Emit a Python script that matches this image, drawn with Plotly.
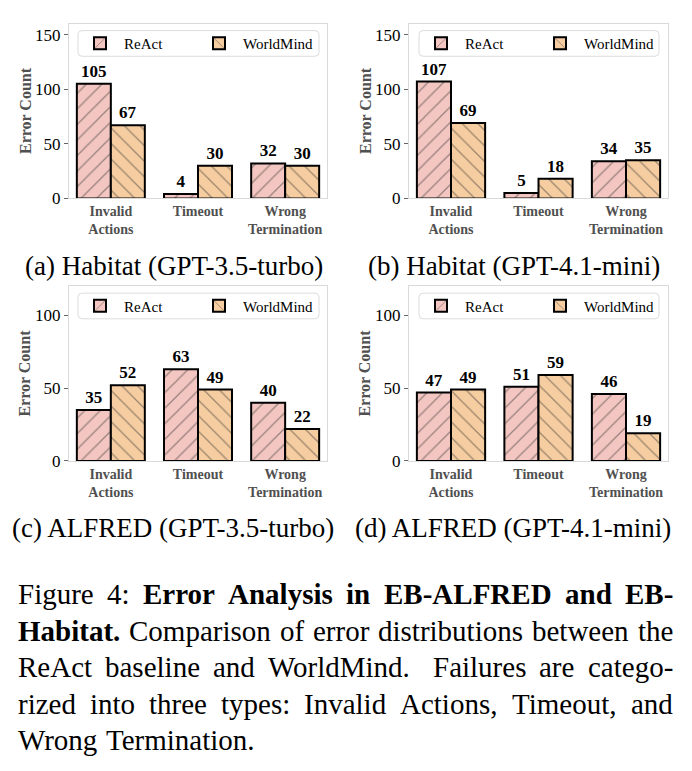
import plotly.graph_objects as go

categories = ["Invalid Actions", "Timeout", "Wrong Termination"]
tick_labels = ["Invalid<br>Actions", "Timeout", "Wrong<br>Termination"]
series_names = ["ReAct", "WorldMind"]

habitat_gpt35_react = [105, 4, 32]
habitat_gpt35_worldmind = [67, 30, 30]
habitat_gpt41_react = [107, 5, 34]
habitat_gpt41_worldmind = [69, 18, 35]
alfred_gpt35_react = [35, 63, 40]
alfred_gpt35_worldmind = [52, 49, 22]
alfred_gpt41_react = [47, 51, 46]
alfred_gpt41_worldmind = [49, 59, 19]

subcaptions = ["(a) Habitat (GPT-3.5-turbo)", "(b) Habitat (GPT-4.1-mini)",
               "(c) ALFRED (GPT-3.5-turbo)", "(d) ALFRED (GPT-4.1-mini)"]
# caption: (line text, range of bold words, justified?)
caption_lines = [
    ("Figure 4: Error Analysis in EB-ALFRED and EB-", (2, 99), True),
    ("Habitat. Comparison of error distributions between the", (0, 1), True),
    ("ReAct baseline and WorldMind. Failures are catego-", (0, 0), True),
    ("rized into three types: Invalid Actions, Timeout, and", (0, 0), True),
    ("Wrong Termination.", (0, 0), False),
]

W, H = 692, 771
SERIF = "Liberation Serif, Times New Roman, serif"
REACT_COLOR = "#F3C6C1"
WM_COLOR = "#F6CDA0"
GRAY_TXT = "#505050"

# Times / Liberation Serif advance widths (1/1000 em)
_REG = dict(zip("ABCDEFGHIJKLMNOPQRSTUVWXYZ",
                [722, 667, 667, 722, 611, 556, 722, 722, 333, 389, 722, 611, 889, 722, 722, 556, 722, 667, 556, 611, 722, 722, 944, 722, 722, 611]))
_REG.update(zip("abcdefghijklmnopqrstuvwxyz",
                [444, 500, 444, 500, 444, 333, 500, 500, 278, 278, 500, 278, 778, 500, 500, 500, 500, 333, 389, 278, 500, 500, 722, 500, 500, 444]))
_REG.update({c: 500 for c in "0123456789"})
_REG.update({" ": 250, "-": 333, ".": 250, ",": 250, ":": 278, "(": 333, ")": 333})
_BOLD = dict(zip("ABCDEFGHIJKLMNOPQRSTUVWXYZ",
                 [722, 667, 722, 722, 667, 611, 778, 778, 389, 500, 778, 667, 944, 722, 778, 611, 778, 722, 556, 667, 722, 722, 1000, 722, 722, 667]))
_BOLD.update(zip("abcdefghijklmnopqrstuvwxyz",
                 [500, 556, 444, 556, 444, 333, 500, 556, 278, 333, 556, 278, 833, 556, 500, 556, 556, 444, 389, 333, 556, 500, 722, 500, 500, 444]))
_BOLD.update({c: 500 for c in "0123456789"})
_BOLD.update({" ": 250, "-": 333, ".": 250, ",": 250, ":": 333, "(": 333, ")": 333})


def text_width(s, size, bold=False):
    tbl = _BOLD if bold else _REG
    return sum(tbl.get(c, 500) for c in s) * size / 1000.0


panels = [
    (habitat_gpt35_react, habitat_gpt35_worldmind, (69, 327), (24, 201), 160, [0, 50, 100, 150]),
    (habitat_gpt41_react, habitat_gpt41_worldmind, (409, 668), (24, 201), 160, [0, 50, 100, 150]),
    (alfred_gpt35_react, alfred_gpt35_worldmind, (69, 327), (290, 467), 120, [0, 50, 100]),
    (alfred_gpt41_react, alfred_gpt41_worldmind, (409, 668), (290, 467), 120, [0, 50, 100]),
]
legend_box = [(78, 31, 319, 57), (419, 31, 659, 57), (78, 297, 319, 323), (419, 297, 659, 323)]
subcap_pos = [(174, 270), (514, 270), (173, 535), (513, 535)]
ytitle_x = [25, 365, 25, 365]

fig = go.Figure()
layout = dict(
    width=W, height=H, margin=dict(l=0, r=0, t=0, b=0),
    paper_bgcolor="white", plot_bgcolor="white",
    barmode="group", bargap=0.22, bargroupgap=0.0,
    font=dict(family=SERIF, color="black"),
)
annotations = []
shapes = []


def px(x):
    return x / W


def py(y):
    return 1 - y / H


for i, (react, wm, (x0, x1), (y0, y1), ymax, yt) in enumerate(panels):
    n = i + 1
    xa = "x" if n == 1 else f"x{n}"
    ya = "y" if n == 1 else f"y{n}"
    lg = "legend" if n == 1 else f"legend{n}"
    for name, vals, color, shape in [(series_names[0], react, REACT_COLOR, "/"),
                                     (series_names[1], wm, WM_COLOR, "\\")]:
        fig.add_trace(go.Bar(
            x=categories, y=vals, name=name, xaxis=xa, yaxis=ya, legend=lg,
            marker=dict(color=color, line=dict(color="black", width=2),
                        pattern=dict(shape=shape, fgcolor="#3a3a3a", bgcolor=color,
                                     size=11, solidity=0.11, fillmode="overlay")),
            text=[str(v) for v in vals], textposition="outside", cliponaxis=False,
            textfont=dict(family=SERIF, size=17, color="black", weight="bold"),
            showlegend=True,
        ))
    xkey = "xaxis" if n == 1 else f"xaxis{n}"
    ykey = "yaxis" if n == 1 else f"yaxis{n}"
    layout[xkey] = dict(
        domain=[px(x0), px(x1)], anchor=ya, range=[-0.48, 2.48],
        tickmode="array", tickvals=categories, ticktext=tick_labels,
        tickfont=dict(family=SERIF, size=14, color=GRAY_TXT, weight="bold"),
        showline=True, mirror=True, linecolor="#d9d9d9", linewidth=1,
        showgrid=False, ticks="", fixedrange=True,
    )
    layout[ykey] = dict(
        domain=[py(y1), py(y0)], anchor=xa, range=[0, ymax],
        tickvals=yt, tickfont=dict(family=SERIF, size=17, color="black"),
        ticks="outside", ticklen=4, tickcolor="#666", tickwidth=1,
        showline=True, mirror=True, linecolor="#d9d9d9", linewidth=1,
        showgrid=False, zeroline=False,
    )
    annotations.append(dict(x=px(ytitle_x[i]), y=py((y0 + y1) / 2), xref="paper", yref="paper",
                            text="Error Count", textangle=-90, showarrow=False,
                            xanchor="center", yanchor="middle",
                            font=dict(family=SERIF, size=16, color=GRAY_TXT, weight="bold")))
    bx0, by0, bx1, by1 = legend_box[i]
    r = 4
    path = (f"M{px(bx0 + r)},{py(by0)} L{px(bx1 - r)},{py(by0)} Q{px(bx1)},{py(by0)} {px(bx1)},{py(by0 + r)} "
            f"L{px(bx1)},{py(by1 - r)} Q{px(bx1)},{py(by1)} {px(bx1 - r)},{py(by1)} "
            f"L{px(bx0 + r)},{py(by1)} Q{px(bx0)},{py(by1)} {px(bx0)},{py(by1 - r)} "
            f"L{px(bx0)},{py(by0 + r)} Q{px(bx0)},{py(by0)} {px(bx0 + r)},{py(by0)} Z")
    shapes.append(dict(type="path", path=path, xref="paper", yref="paper",
                       line=dict(color="#dcdcdc", width=1), fillcolor="white", layer="above"))
    layout[lg] = dict(
        x=px(bx0 - 2), y=py((by0 + by1) / 2), xanchor="left", yanchor="middle",
        xref="paper", yref="paper",
        orientation="h", bgcolor="rgba(0,0,0,0)", bordercolor="rgba(0,0,0,0)", borderwidth=0,
        font=dict(family=SERIF, size=15, color="black"),
        itemwidth=38, entrywidth=66, entrywidthmode="pixels",
        itemclick=False, itemdoubleclick=False,
    )

for (cx, cy), txt in zip(subcap_pos, subcaptions):
    annotations.append(dict(x=px(cx), y=py(cy), xref="paper", yref="paper",
                            text=txt, showarrow=False, xanchor="center", yanchor="middle",
                            font=dict(family=SERIF, size=27, color="black")))

# justified figure caption, word by word
CAP_SIZE = 29
LEFT, RIGHT = 18, 673
for k, (line, (b0, b1), justify) in enumerate(caption_lines):
    cy = 602 + k * 37
    words = line.split()
    bolds = [b0 <= j < b1 for j in range(len(words))]
    widths = [text_width(w, CAP_SIZE, b) for w, b in zip(words, bolds)]
    weights = []
    for w in words[:-1]:
        weights.append(1.6 if w.endswith(".") and not w[0].isupper() or w.endswith("d.") else 1.0)
    if justify:
        gap_total = (RIGHT - LEFT) - sum(widths)
        gaps = [gap_total * wt / sum(weights) for wt in weights]
    else:
        gaps = [0.25 * CAP_SIZE] * len(weights)
    xcur = LEFT
    for j, (w, b) in enumerate(zip(words, bolds)):
        annotations.append(dict(x=px(xcur), y=py(cy), xref="paper", yref="paper",
                                text=w, showarrow=False, xanchor="left", yanchor="middle",
                                borderpad=0, borderwidth=0,
                                font=dict(family=SERIF, size=CAP_SIZE, color="black",
                                          weight="bold" if b else "normal")))
        if j < len(gaps):
            xcur += widths[j] + gaps[j]

layout["annotations"] = annotations
layout["shapes"] = shapes
fig.update_layout(**layout)
fig.write_html("out.html")
